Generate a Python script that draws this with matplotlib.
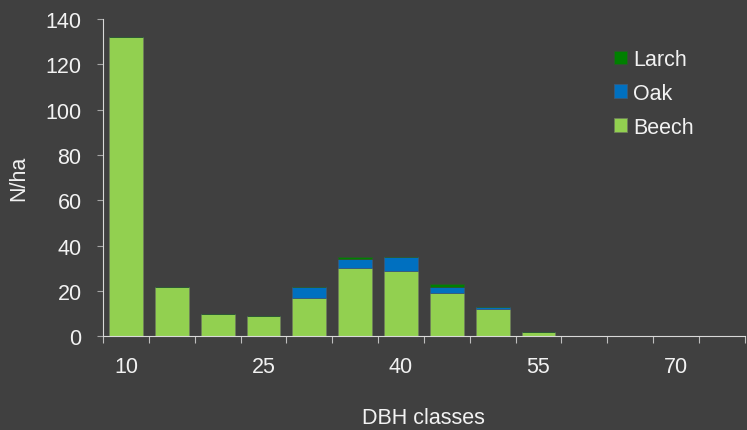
import matplotlib.pyplot as plt
import numpy as np

# DBH classes and stem numbers per hectare
classes = [10, 15, 20, 25, 30, 35, 40, 45, 50, 55, 60, 65, 70, 75]
beech = [132, 22, 10, 9, 17, 30, 29, 19, 12, 2, 0, 0, 0, 0]
oak = [0, 0, 0, 0, 5, 4, 6, 3, 1, 0, 0, 0, 0, 0]
larch = [0, 0, 0, 0, 0, 1, 0, 1, 0, 0, 0, 0, 0, 0]
shown_labels = [10, 25, 40, 55, 70]

bg = '#404040'
txt = '#f2f2f2'
fs = 15.5
plt.rcParams['font.family'] = ['Liberation Sans', 'DejaVu Sans']

fig = plt.figure(figsize=(7.47, 4.31), dpi=100, facecolor=bg)
ax = fig.add_axes([0.138, 0.217, 0.859, 0.737], facecolor=bg)

x = np.arange(len(classes))
beech = np.array(beech)
oak = np.array(oak)
larch = np.array(larch)
w = 0.74
ax.bar(x, beech, w, color='#92D050', edgecolor='#6e7f5a', linewidth=0.6, label='Beech')
ax.bar(x, oak, w, bottom=beech, color='#0070C0', edgecolor='#3a5a7a', linewidth=0.6, label='Oak')
ax.bar(x, larch, w, bottom=beech + oak, color='#008000', edgecolor='#2a5a2a', linewidth=0.6, label='Larch')

ax.set_xlim(-0.5, len(classes) - 0.5)
ax.set_ylim(0, 140)
ax.set_yticks(range(0, 141, 20))

# category boundary ticks, labels every third class
ax.set_xticks(np.arange(len(classes) + 1) - 0.5)
ax.set_xticklabels([])
pos = [classes.index(c) for c in shown_labels]
ax.set_xticks(pos, minor=True)
ax.set_xticklabels([str(c) for c in shown_labels], minor=True)
ax.tick_params(axis='x', which='minor', length=0, pad=14, labelsize=fs, labelcolor=txt)
ax.tick_params(axis='x', which='major', length=5, color='#bfbfbf', direction='out')
ax.tick_params(axis='y', length=4.5, color='#a6a6a6', labelsize=fs, labelcolor=txt, pad=11)

for s in ['top', 'right']:
    ax.spines[s].set_visible(False)
ax.spines['left'].set_color('#d9d9d9')
ax.spines['bottom'].set_color('#d9d9d9')

ax.set_xlabel('DBH classes', color=txt, fontsize=fs, labelpad=22)
ax.set_ylabel('N/ha', color=txt, fontsize=fs, labelpad=12)

h, l = ax.get_legend_handles_labels()
leg = ax.legend(h[::-1], l[::-1], loc='upper left', bbox_to_anchor=(0.797, 0.905),
                frameon=False, fontsize=fs, handlelength=0.6, handleheight=0.6,
                handletextpad=0.25, labelspacing=0.6, borderaxespad=0, borderpad=0)
for t in leg.get_texts():
    t.set_color(txt)

plt.savefig('out.png', dpi=100, facecolor=bg)
